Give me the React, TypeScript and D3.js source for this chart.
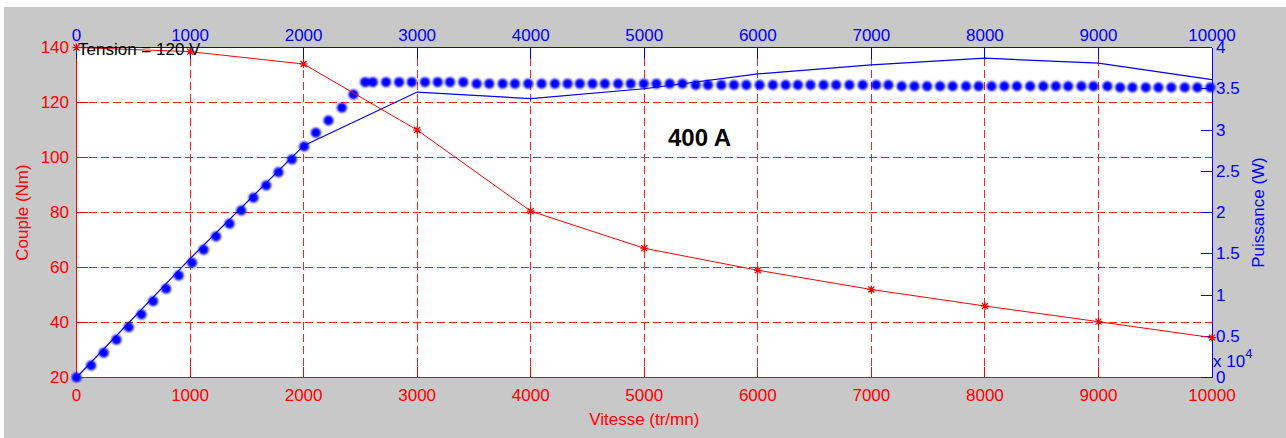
import React from "react";
import * as d3 from "d3";

const speeds = [0, 1000, 2000, 3000, 4000, 5000, 6000, 7000, 8000, 9000, 10000];
const couple = [140, 138.5, 134, 110, 80.5, 67, 59, 52, 46, 40.3, 34.5];
const puissance = [0, 1.44, 2.81, 3.46, 3.38, 3.5, 3.68, 3.79, 3.87, 3.81, 3.61];

const dotSpeed = [
  0, 129, 240, 352, 460, 572, 675, 789, 900, 1018, 1120, 1229, 1348, 1451, 1559, 1671, 1779, 1897, 2005, 2108, 2219, 2337, 2439,
  2542, 2610, 2726, 2841, 2953, 3069, 3181, 3289, 3406,
  3524, 3635, 3753, 3861, 3978, 4096, 4213, 4325, 4433, 4544, 4653, 4770, 4881, 4996, 5107, 5224, 5336,
  5453, 5561, 5679, 5790, 5899, 6016, 6133, 6245, 6353, 6464, 6579, 6690, 6807, 6924, 7042, 7150,
  7267, 7379, 7491, 7605, 7716, 7834, 7945, 8059, 8171, 8282, 8399, 8514, 8625, 8733, 8850, 8956, 9079,
  9191, 9299, 9417, 9528, 9642, 9760, 9871, 9985,
];
const dotPower = [
  0, 0.145, 0.3, 0.457, 0.61, 0.764, 0.925, 1.075, 1.236, 1.39, 1.548, 1.709, 1.863, 2.024, 2.178, 2.327, 2.488, 2.642, 2.8, 2.966, 3.115, 3.269, 3.43,
  3.58, 3.58, 3.58, 3.58, 3.58, 3.58, 3.58, 3.58, 3.58,
  3.56, 3.56, 3.56, 3.56, 3.56, 3.56, 3.56, 3.56, 3.56, 3.56, 3.56, 3.56, 3.56, 3.56, 3.56, 3.56, 3.56,
  3.545, 3.545, 3.545, 3.545, 3.545, 3.545, 3.545, 3.545, 3.545, 3.545, 3.545, 3.545, 3.545, 3.545, 3.545, 3.545,
  3.53, 3.53, 3.53, 3.53, 3.53, 3.53, 3.53, 3.53, 3.53, 3.53, 3.53, 3.53, 3.53, 3.53, 3.53, 3.53, 3.53,
  3.515, 3.515, 3.515, 3.515, 3.515, 3.515, 3.515, 3.515,
];

const xTicks = [0, 1000, 2000, 3000, 4000, 5000, 6000, 7000, 8000, 9000, 10000];
const leftTicks = [20, 40, 60, 80, 100, 120, 140];
const rightTicks = [0, 0.5, 1, 1.5, 2, 2.5, 3, 3.5, 4];

const W = 1286;
const H = 438;
const L = 76.5, R = 1212, T = 47.5, B = 377.5;
const RED = "#ff0000";
const BLUE = "#0000ff";
const FONT = "'Liberation Sans', Arial, sans-serif";
const FS = 17;
const TICK = 11;

export default function App() {
  const x = d3.scaleLinear().domain([0, 10000]).range([L, R]);
  const yL = d3.scaleLinear().domain([20, 140]).range([B, T]);
  const yR = d3.scaleLinear().domain([0, 4]).range([B, T]);
  const px = (v: number) => Math.round(v - 0.5) + 0.5;

  const redLine = d3.line<number>().x((_, i) => x(speeds[i])).y((d) => yL(d))(couple) || "";
  const blueLine = d3.line<number>().x((_, i) => x(speeds[i])).y((d) => yR(d))(puissance) || "";
  const star = "M-4,0H4M0,-4V4M-3,-3L3,3M-3,3L3,-3";

  return (
    <svg width={W} height={H} style={{ position: "absolute", left: 0, top: 0, display: "block" }} fontFamily={FONT}>
      <defs>
        <filter id="blur" x="-1" y="-1" width="3" height="3">
          <feGaussianBlur stdDeviation="1.1" />
        </filter>
        <clipPath id="plotclip">
          <rect x={L - 6} y={T - 6} width={R - L + 12} height={B - T + 12} />
        </clipPath>
      </defs>
      <rect x={0} y={0} width={W} height={H} fill="#ffffff" />
      <rect x={4} y={7} width={W - 4} height={H - 7} fill="#c8c8c8" />
      <rect x={L} y={T} width={R - L} height={B - T} fill="#ffffff" />

      {/* grid */}
      <g stroke="#ff2020" strokeWidth={1} strokeDasharray="8,4" shapeRendering="crispEdges">
        {xTicks.map((t) => (
          <line key={"gx" + t} x1={px(x(t))} x2={px(x(t))} y1={B} y2={T} />
        ))}
        {leftTicks.map((t) => (
          <line key={"gy" + t} x1={L} x2={R} y1={px(yL(t))} y2={px(yL(t))} />
        ))}
      </g>

      {/* left & bottom axes (red) */}
      <g stroke={RED} strokeWidth={1} shapeRendering="crispEdges">
        <line x1={L} x2={L} y1={T} y2={B} />
        <line x1={L} x2={R} y1={B} y2={B} />
        {leftTicks.map((t) => (
          <line key={"lt" + t} x1={L} x2={L + TICK} y1={px(yL(t))} y2={px(yL(t))} />
        ))}
        {xTicks.map((t) => (
          <line key={"bt" + t} x1={px(x(t))} x2={px(x(t))} y1={B} y2={B - TICK} />
        ))}
      </g>
      <g fill={RED} fontSize={FS}>
        {leftTicks.map((t) => (
          <text key={"ll" + t} x={69} y={yL(t)} textAnchor="end" dominantBaseline="central">
            {t}
          </text>
        ))}
        {xTicks.map((t) => (
          <text key={"bl" + t} x={x(t)} y={395} textAnchor="middle" dominantBaseline="central">
            {t}
          </text>
        ))}
        <text x={(L + R) / 2} y={419} textAnchor="middle" dominantBaseline="central">
          Vitesse (tr/mn)
        </text>
        <text transform={`translate(22,${(T + B) / 2}) rotate(-90)`} textAnchor="middle" dominantBaseline="central">
          Couple (Nm)
        </text>
      </g>

      {/* top & right axes (blue) */}
      <g stroke={BLUE} strokeWidth={1} shapeRendering="crispEdges">
        <line x1={L} x2={R} y1={T} y2={T} />
        <line x1={R} x2={R} y1={T} y2={B} />
        {xTicks.map((t) => (
          <line key={"tt" + t} x1={px(x(t))} x2={px(x(t))} y1={T} y2={T + TICK} />
        ))}
        {rightTicks.map((t) => (
          <line key={"rt" + t} x1={R} x2={R - TICK} y1={px(yR(t))} y2={px(yR(t))} />
        ))}
      </g>
      <g fill={BLUE} fontSize={FS}>
        {xTicks.map((t) => (
          <text key={"tl" + t} x={x(t)} y={35} textAnchor="middle" dominantBaseline="central">
            {t}
          </text>
        ))}
        {rightTicks.map((t) => (
          <text key={"rl" + t} x={1216} y={yR(t)} textAnchor="start" dominantBaseline="central">
            {t}
          </text>
        ))}
        <text x={1213} y={367}>
          x 10
          <tspan dy={-9} fontSize={13}>4</tspan>
        </text>
        <text transform={`translate(1258,${(T + B) / 2}) rotate(-90)`} textAnchor="middle" dominantBaseline="central">
          Puissance (W)
        </text>
      </g>

      {/* data */}
      <g clipPath="url(#plotclip)">
        <g filter="url(#blur)">
          {dotSpeed.map((s, i) => (
            <circle key={"d" + i} cx={x(s)} cy={yR(dotPower[i])} r={5} fill={BLUE} />
          ))}
        </g>
        <path d={blueLine} fill="none" stroke={BLUE} strokeWidth={1.2} />
        <path d={redLine} fill="none" stroke={RED} strokeWidth={1} />
        {couple.map((c, i) => (
          <path key={"m" + i} d={star} transform={`translate(${x(speeds[i])},${yL(c)})`} stroke={RED} strokeWidth={1.2} fill="none" />
        ))}
      </g>

      <text x={78} y={55} fontSize={17} fill="#000">
        Tension = 120 V
      </text>
      <text x={668} y={146} fontSize={24} fontWeight="bold" fill="#000">
        400 A
      </text>
    </svg>
  );
}
